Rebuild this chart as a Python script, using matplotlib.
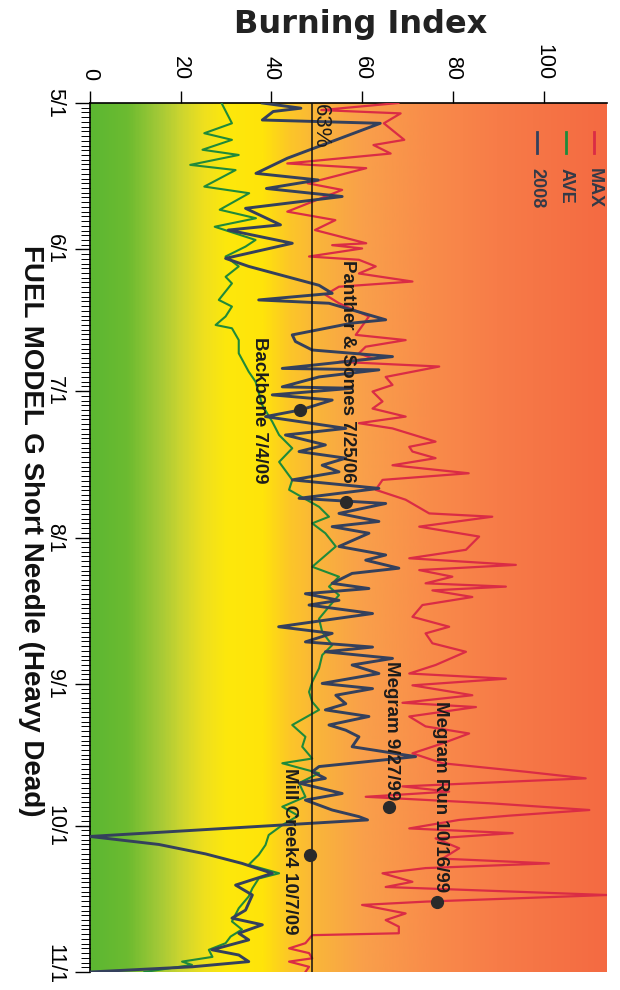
import numpy as np
import matplotlib
matplotlib.use('Agg')
import matplotlib.pyplot as plt
from matplotlib.colors import LinearSegmentedColormap

# ---------------- data ----------------
month_days = [0, 31, 61, 92, 123, 153, 184]          # days since 5/1
month_labels = ['5/1', '6/1', '7/1', '8/1', '9/1', '10/1', '11/1']
bi_ticks = [0, 20, 40, 60, 80, 100]

max_days = [0, 1.5, 2.2, 4.3, 7.8, 8.9, 10.7, 12.8, 13.8, 17.0, 18.4, 23.0, 24.8, 26.9, 29.7,
            30.1, 30.8, 32.5, 33.2, 34.6, 36.1, 37.8, 38.9, 40.6, 42.4, 45.2, 49.1, 50.2, 51.6, 53.0,
            54.1, 54.8, 55.8, 58.0, 59.7, 61.1, 63.2, 64.7, 66.4, 67.8, 68.9, 71.7, 72.8, 73.8, 75.2,
            76.7, 78.4, 79.8, 81.9, 84.0, 86.9, 87.6, 89.7, 91.8, 94.6, 96.4, 97.8, 98.9, 100.3, 101.7,
            102.4, 103.2, 104.6, 106.3, 108.8, 110.9, 112.3, 114.4, 116.2, 119.0, 120.8, 121.9, 123.3,
            125.4, 127.0, 127.9, 129.9, 132.0, 133.5, 135.6, 137.7, 139.8, 141.6, 143.0, 144.7, 145.8,
            146.9, 148.3, 149.7, 150.9, 151.8, 153.6, 154.6, 155.7, 157.8, 160.0, 161.0, 162.0, 163.1,
            164.9, 166.0, 167.7, 169.1, 169.8, 171.6, 173.0, 174.4, 175.8, 176.2, 177.9, 179.0, 180.0,
            181.1, 181.8, 182.9, 184.0]
max_vals = [68, 51, 68.5, 64.8, 69.3, 62.5, 66.3, 43.5, 60.9, 48, 55.6, 43.5, 54.1, 49.6, 60.9,
            53.4, 60, 48.3, 59.3, 63, 59.3, 71.1, 54.9, 51.9, 54.9, 61.5, 58.6, 69.6, 60.8, 59.3,
            62.3, 54.9, 77, 65.2, 66.7, 62.3, 64.5, 62.3, 69.6, 59.3, 66.7, 76.2, 70.4, 71.1, 76.2,
            66.7, 83.5, 64.5, 63, 69.6, 74.8, 88.7, 72.6, 85.8, 82.9, 70.4, 93.9, 72.6, 79.9, 74,
            91.7, 75.5, 84.3, 73.3, 71.1, 79.2, 74, 75.5, 82.9, 76.2, 70.4, 91.7, 71.1,
            84.3, 68.9, 85.1, 70.4, 74, 83.6, 77.7, 71.1, 77.7, 96.1, 109.3, 68.9, 79.2,
            60.8, 88.7, 110.1, 92.4, 81.4, 70.4, 93.2, 76.2, 81.4, 77.7, 101.2, 74, 64.5,
            71.1, 65.2, 114, 74, 60, 69.6, 65.2, 68.1, 68.1, 49, 47.5, 43.9, 48.3,
            49, 43.9, 48.3, 47.5]

ave_days = [0, 4.3, 6.4, 7.8, 9.9, 11.0, 13.1, 14.2, 17.7, 19.1, 22.6, 24.4, 26.2, 29.0, 30.4,
            32.5, 34.6, 36.8, 38.2, 41.7, 43.1, 45.2, 47.0, 47.7, 50.2, 53.0, 56.9, 59.0, 64.0, 67.5,
            70.3, 73.1, 76.0, 79.8, 81.9, 85.5, 87.6, 89.0, 91.1, 93.9, 98.2, 100.3, 102.4, 104.2, 106.3,
            109.2, 112.0, 114.8, 116.9, 119.7, 122.6, 124.7, 126.8, 128.5, 131.7, 134.2, 136.3, 138.8,
            139.8, 141.9, 144.0, 146.9, 149.0, 150.9, 152.9, 155.0, 157.1, 159.2, 161.3, 163.1, 164.2,
            166.3, 168.0, 170.5, 173.3, 175.0, 176.5, 177.9, 179.3, 180.8, 181.8, 182.5, 184.0]
ave_vals = [29, 31.3, 25.2, 31.3, 24.8, 32.8, 22.1, 32.1, 25.2, 35.1, 28.6, 36.6, 27.5, 36.5, 34.3,
            29.9, 32.8, 29.9, 31.3, 28.4, 31.3, 29.9, 27.7, 31.3, 32.8, 32.8, 35, 36.5, 38, 40.2,
            41.7, 44.6, 41.7, 44.6, 43.9, 50.5, 52.7, 49, 51.9, 54.2, 49, 54.9, 52.7, 54.9, 53,
            50.5, 51.2, 53.4, 51.2, 50.5, 49, 48.3, 49, 50.5, 44.6, 47.5, 46.8, 49,
            42.4, 50.5, 46.1, 47.5, 42.4, 45.9, 42.4, 39.4, 38.7, 37.2, 35, 41.7, 37.2,
            35.8, 35, 32.8, 31.3, 33.5, 31, 29.9, 26.2, 27, 20.3, 22.5, 12]

y2008_days = [0, 1.1, 1.8, 3.6, 4.3, 11.7, 14.9, 16.3, 18.1, 19.8, 22.3, 25.8, 26.9, 29.7, 32.9,
              34.6, 38.6, 40.3, 41.7, 42.4, 45.9, 46.6, 49.1, 50.5, 52.3, 53.7, 56.2, 56.5, 58.0, 60.1,
              60.4, 61.8, 62.9, 65.0, 66.4, 68.9, 70.3, 72.4, 73.8, 75.2, 76.7, 78.1, 79.8, 81.6, 83.7,
              84.8, 86.9, 88.6, 89.7, 91.1, 93.9, 95.7, 96.8, 98.5, 99.6, 101.7, 102.8, 103.9, 105.3,
              106.3, 108.1, 109.5, 110.9, 112.3, 114.1, 115.2, 116.2, 117.6, 119.0, 120.8, 122.9, 124.0,
              125.4, 127.2, 128.5, 129.9, 131.7, 132.8, 134.2, 136.3, 138.4, 140.5, 141.6, 143.0, 144.0,
              146.2, 147.6, 149.7, 151.1, 151.8, 155.3, 157.0, 159.0, 161.0, 163.1, 165.6, 167.7, 170.9,
              172.6, 174.0, 175.8, 177.2, 179.3, 180.4, 181.8, 182.9, 184.0]
y2008_vals = [38, 46.5, 40.4, 38, 64, 43.5, 36.6, 50.3, 38.9, 55.6, 34.3, 42, 30.5, 44.6, 29.9,
              35, 50.5, 53.4, 37.2, 52.7, 65.2, 57.8, 44.6, 45.3, 49, 66.7, 42.4, 63.7, 50.5, 42.4,
              57.8, 40.2, 53.4, 46.4, 38.7, 56.4, 43.1, 51.9, 46.1, 56.4, 51.2, 54.9, 44.6, 63.7, 46.1,
              65.2, 54.9, 63.7, 53.4, 61.5, 54.9, 65.2, 60.8, 68.1, 57.8, 53.4, 61.5, 47.5, 54.9,
              48.3, 62.3, 51.9, 41.6, 53.4, 47.5, 62.3, 51.9, 66.7, 57.8, 63.7, 51.2, 62.3,
              54.2, 56.4, 51.9, 61.5, 52.7, 56.4, 59.3, 57.8, 71.8, 50.5, 49, 51.9, 46.1,
              55.6, 47.5, 53.4, 59.3, 61.2, 0, 15.2, 25.5, 33.5, 40.2, 32.1, 35.8, 34.3,
              31.3, 38, 32.8, 35, 26.9, 32.8, 35, 22.5, 0]

fire_names = ['Backbone 7/4/09', 'Panther & Somes 7/25/06', 'Megram 9/27/99',
              'Mill Creek4 10/7/09', 'Megram Run 10/16/99']
fire_days = [65.0, 84.4, 149.0, 159.2, 169.1]
fire_bi = [46.4, 56.4, 65.9, 48.6, 76.6]

pct_value = 49
pct_label = '63%'

series_names = ['MAX', 'AVE', '2008']

# ---------------- styles / layout ----------------
c_max, c_ave, c_2008 = '#da2c45', '#1f8a3a', '#34405c'
label_offsets = [(-29.5, -52.6), (1.5, 13.7), (2, 5), (-15, -57.6), (2, 7)]  # points
BI_MAX = 114
DAY_MAX = 184
TICK_FONT = ['Liberation Sans', 'DejaVu Sans']

fig = plt.figure(figsize=(6.2, 9.9), dpi=100)
ax = fig.add_axes([90 / 620, 1 - 972 / 990, 517 / 620, 869 / 990])

stops = [(0, '#5cb732'), (8, '#6cbb30'), (15, '#a3c937'), (20, '#cdd52f'), (25, '#efe01e'),
         (30, '#fde80c'), (38, '#ffe40a'), (44, '#fcc628'), (50, '#fab53a'), (60, '#f9a04a'),
         (75, '#f98c4a'), (90, '#f77c48'), (114, '#f46a42')]
cmap = LinearSegmentedColormap.from_list('bi', [(v / BI_MAX, c) for v, c in stops])
grad = np.linspace(0, 1, 600).reshape(1, -1)
ax.imshow(grad, extent=[0, BI_MAX, DAY_MAX, 0], aspect='auto', cmap=cmap,
          interpolation='bilinear', zorder=0)

ax.plot(max_vals, max_days, color=c_max, lw=1.6, zorder=3)
ax.plot(ave_vals, ave_days, color=c_ave, lw=1.5, zorder=4)
ax.plot(y2008_vals, y2008_days, color=c_2008, lw=2.1, zorder=5)
ax.axvline(pct_value, color='#111111', lw=1.1, zorder=6)
ax.plot(fire_bi, fire_days, 'o', color='#2a2a2a', ms=8.5, zorder=7)

for name, d, b, off in zip(fire_names, fire_days, fire_bi, label_offsets):
    ax.annotate(name, (b, d), xytext=off, textcoords='offset points', rotation=-90,
                rotation_mode='anchor', ha='right', va='center', fontsize=13.5,
                fontweight='bold', family=TICK_FONT, color='#1c1c1c', zorder=8)

ax.annotate(pct_label, (pct_value, 0), xytext=(6, -1), textcoords='offset points',
            rotation=-90, rotation_mode='anchor', ha='left', va='center', fontsize=16,
            family=TICK_FONT, color='#1c1c1c', zorder=8)

# legend (manual, rotated)
leg_x = [0.975, 0.921, 0.865]
for nm, col, lx in zip(series_names, [c_max, c_ave, c_2008], leg_x):
    ax.plot([lx, lx], [0.967, 0.942], transform=ax.transAxes, color=col, lw=2, zorder=9)
    ax.text(lx, 0.925, nm, transform=ax.transAxes, rotation=-90, rotation_mode='anchor',
            ha='left', va='center', fontsize=13, fontweight='bold',
            family=TICK_FONT, color='#333a48', zorder=9)

ax.set_xlim(0, BI_MAX)
ax.set_ylim(DAY_MAX, 0)

ax.xaxis.tick_top()
ax.set_xticks(bi_ticks)
ax.set_xticklabels([str(t) for t in bi_ticks], rotation=-90, fontsize=15.5, family=TICK_FONT)
ax.tick_params(axis='x', which='major', direction='out', length=8.5, width=1, pad=8)

# date ticks: labels drawn as tick labels, the last one nudged up so it stays inside the figure
ax.set_yticks(month_days)
ax.set_yticklabels(month_labels[:-1] + [''], rotation=-90, fontsize=15.5, family=TICK_FONT)
for lab in ax.get_yticklabels():
    lab.set_va('center')
ax.set_yticks(np.arange(0, DAY_MAX + 1, 1), minor=True)
ax.tick_params(axis='y', which='major', direction='out', length=11, width=1, pad=7)
ax.tick_params(axis='y', which='minor', direction='out', length=6.5, width=0.7)
ax.annotate(month_labels[-1], xy=(0, month_days[-1]), xycoords=('axes fraction', 'data'),
            xytext=(-18, 6), textcoords='offset points', rotation=-90, ha='right', va='center',
            fontsize=15.5, family=TICK_FONT, annotation_clip=False)

for s in ['right', 'bottom']:
    ax.spines[s].set_visible(False)
for s in ['top', 'left']:
    ax.spines[s].set_linewidth(1.2)

fig.text(361 / 620, 1 - 33 / 990, 'Burning Index', ha='center', va='baseline',
         fontsize=23, fontweight='bold', family='DejaVu Sans', color='#222222')
fig.text(31 / 620, 1 - 531 / 990, 'FUEL MODEL G Short Needle (Heavy Dead)', rotation=-90,
         ha='center', va='center', fontsize=20, fontweight='bold', family='Liberation Sans',
         color='#111111')

fig.savefig('out.png', dpi=100)
